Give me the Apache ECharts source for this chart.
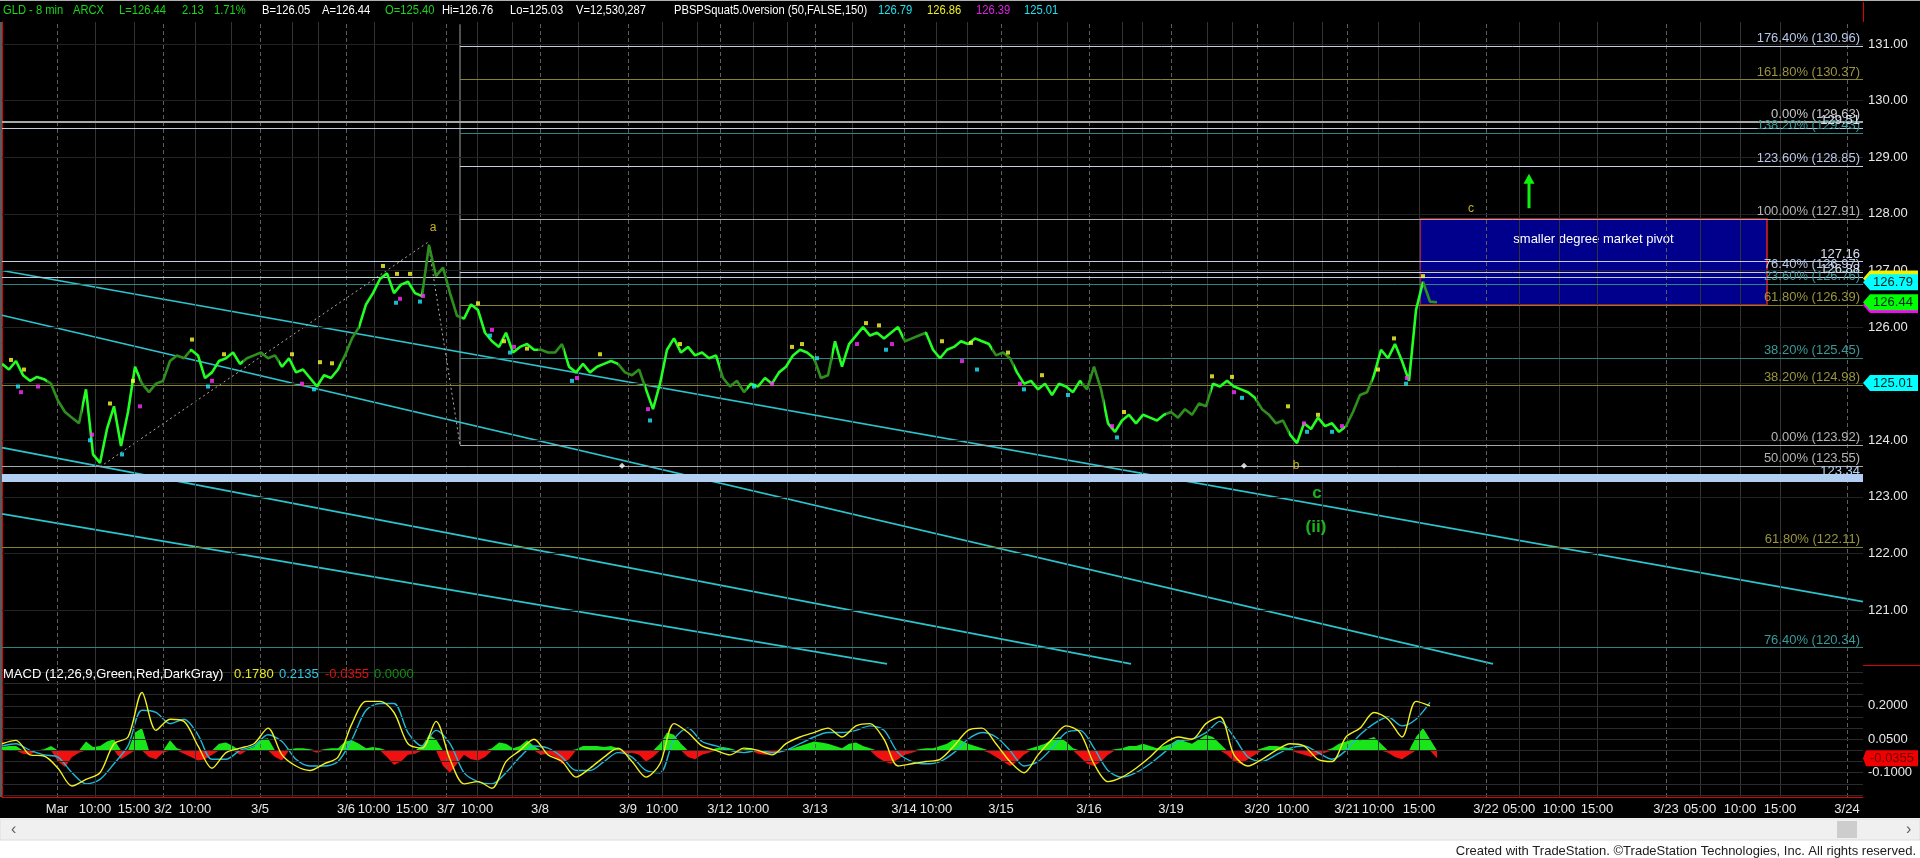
<!DOCTYPE html>
<html><head><meta charset="utf-8">
<script src="https://cdn.jsdelivr.net/npm/echarts@6/dist/echarts.min.js"></script>
<style>html,body{margin:0;padding:0;background:#fff;}#c{width:1920px;height:858px;}</style>
</head><body><div id="c"></div>
<script>
// ---------------- DATA ----------------
const PRICE_STEP = 7;   // bars between price samples (8-min bars)
const priceClose = [
125.35,125.25,125.40,125.15,125.05,125.12,125.08,125.00,124.70,124.50,
124.40,124.30,124.90,123.75,123.60,124.20,124.60,123.90,124.50,125.30,
125.00,124.85,125.00,125.05,125.40,125.50,125.45,125.60,125.50,125.10,
125.20,125.40,125.45,125.55,125.35,125.45,125.50,125.55,125.45,125.50,
125.30,125.45,125.20,125.25,125.10,124.95,125.15,125.10,125.25,125.50,
125.80,126.00,126.40,126.60,126.85,126.95,126.60,126.75,126.80,126.60,
126.55,127.45,126.90,127.05,126.60,126.20,126.15,126.40,126.30,125.90,
125.75,125.65,125.90,125.55,125.65,125.70,125.60,125.60,125.55,125.55,
125.70,125.30,125.20,125.35,125.20,125.30,125.35,125.40,125.35,125.20,
125.15,125.25,124.90,124.55,125.00,125.60,125.80,125.55,125.65,125.50,
125.55,125.45,125.50,125.10,124.95,125.05,124.85,125.00,124.95,125.10,
125.00,125.20,125.30,125.50,125.60,125.55,125.45,125.10,125.15,125.75,
125.30,125.70,125.85,126.00,125.85,125.90,125.80,125.90,126.00,125.75,
125.80,125.85,125.90,125.60,125.45,125.60,125.65,125.75,125.70,125.80,
125.75,125.70,125.50,125.55,125.45,125.20,125.00,125.05,124.90,125.00,
124.80,125.00,124.95,124.85,125.05,124.90,125.30,124.90,124.30,124.15,
124.35,124.45,124.30,124.45,124.40,124.35,124.45,124.50,124.40,124.55,
124.45,124.65,124.60,125.00,124.95,125.05,124.95,124.90,124.85,124.75,
124.55,124.45,124.30,124.35,124.10,123.95,124.30,124.20,124.40,124.25,
124.30,124.15,124.25,124.50,124.80,124.85,125.15,125.60,125.45,125.70,
125.40,125.05,126.30,126.80,126.45,126.44];
// extended-hours sessions (bar ranges) drawn in darker green
const extendedStart = [45,138,241,339,420,536,616,718,812,901,990,1080,1164,1254,1343,1421];
const extendedEnd   = [80,188,277,357,460,562,643,745,830,923,1012,1102,1209,1287,1370,1440];

// indicator dots
const yellowDots = [[9,125.42],[22,125.25],[108,124.65],[131,125.05],[190,125.78],[222,125.52],[290,125.52],[318,125.38],[330,125.36],[381,127.08],[395,126.94],[408,126.94],[476,126.42],[502,125.75],[525,125.62],[598,125.52],[678,125.7],[790,125.65],[800,125.7],[864,126.07],[877,126.03],[940,125.75],[969,125.72],[1006,125.55],[1040,125.15],[1122,124.5],[1210,125.13],[1230,125.12],[1286,124.6],[1316,124.45],[1376,125.25],[1392,125.8],[1421,126.9]];
const cyanDots = [[16,124.95],[88,124.0],[120,123.75],[206,124.95],[312,124.9],[394,126.43],[418,126.45],[488,125.85],[508,125.55],[570,125.05],[648,124.35],[752,124.95],[815,125.45],[884,125.6],[975,125.25],[1022,124.9],[1066,124.8],[1115,124.05],[1240,124.75],[1305,124.15],[1330,124.15],[1404,125.0]];
const magentaDots = [[19,124.85],[36,124.95],[90,124.1],[138,124.6],[210,125.05],[300,125.0],[398,126.5],[421,126.55],[490,125.95],[512,125.65],[575,125.1],[646,124.55],[770,125.0],[855,125.7],[890,125.7],[960,125.4],[1018,125.0],[1110,124.25],[1232,124.85],[1302,124.3],[1340,124.25],[1405,125.1]];

// MACD (12,26,9)
const MACD_STEP = 14;
const macdLine = [0.03,0.045,-0.02,-0.025,-0.08,-0.16,-0.13,-0.10,0.03,0.06,
0.26,0.09,0.14,0.13,0.02,-0.08,-0.01,0.01,0.03,0.10,
-0.02,-0.07,-0.09,-0.06,-0.03,0.12,0.22,0.22,0.17,0.03,
0.01,0.13,-0.04,-0.15,-0.14,-0.17,-0.05,0.00,0.05,-0.02,
-0.05,-0.12,-0.08,-0.03,0.01,-0.05,-0.12,-0.06,0.12,0.08,
0.02,0.00,-0.02,0.01,0.00,-0.02,0.03,0.06,0.08,0.10,
0.06,0.11,0.12,0.05,-0.07,-0.06,-0.05,-0.04,0.02,0.09,
0.10,0.03,-0.05,-0.10,-0.02,0.05,0.11,0.08,-0.06,-0.14,
-0.12,-0.08,-0.03,0.03,0.06,0.05,0.12,0.15,-0.02,-0.07,
-0.04,0.00,0.03,0.02,-0.04,-0.05,0.06,0.10,0.17,0.14,
0.06,0.22,0.20];
const signalLine = [0.02,0.03,0.00,-0.02,-0.03,-0.10,-0.15,-0.13,-0.06,0.02,
0.18,0.17,0.12,0.14,0.07,-0.04,-0.04,0.00,0.02,0.07,
0.04,-0.04,-0.07,-0.07,-0.05,0.05,0.18,0.21,0.21,0.08,
0.02,0.09,0.03,-0.10,-0.14,-0.15,-0.10,-0.03,0.02,0.01,
-0.03,-0.09,-0.09,-0.05,-0.01,-0.03,-0.09,-0.10,0.05,0.10,
0.04,0.02,0.00,-0.01,0.00,-0.01,0.00,0.03,0.06,0.08,
0.08,0.09,0.11,0.09,-0.01,-0.05,-0.06,-0.05,-0.01,0.05,
0.08,0.06,0.00,-0.07,-0.05,0.01,0.08,0.09,0.01,-0.09,
-0.12,-0.10,-0.06,-0.01,0.04,0.05,0.08,0.13,0.06,-0.03,
-0.05,-0.02,0.01,0.02,-0.01,-0.04,0.00,0.07,0.12,0.15,
0.11,0.14,0.215];
const HIST_STEP = 7;
const macdHist = [
0.015,0.02,0.02,-0.015,-0.02,0.0,0.005,0.02,-0.05,-0.075,
-0.03,-0.01,0.04,0.015,0.02,0.04,0.05,-0.04,-0.02,0.08,
0.10,-0.03,-0.04,-0.01,0.045,0.01,-0.015,-0.03,-0.045,-0.04,
-0.02,0.03,0.035,0.02,-0.02,0.005,0.015,0.05,0.055,-0.03,
-0.045,0.005,0.01,0.01,0.005,-0.01,0.005,0.01,0.01,0.04,
0.045,0.03,0.01,0.015,0.01,-0.03,-0.065,-0.05,-0.02,-0.015,
0.02,0.07,0.05,-0.07,-0.10,-0.06,-0.02,-0.04,-0.045,-0.03,
0.01,0.035,0.03,0.01,0.02,0.045,0.02,-0.02,-0.015,-0.03,
-0.06,-0.04,0.005,0.02,0.02,0.02,0.015,0.02,0.01,-0.015,
-0.01,-0.02,-0.05,-0.03,0.03,0.08,0.07,0.03,-0.03,-0.04,
-0.02,-0.01,0.01,0.015,0.01,-0.01,0.005,0.01,-0.015,-0.02,
-0.015,-0.01,0.005,0.01,0.02,0.03,0.04,0.035,0.03,0.02,
0.01,0.03,0.035,0.02,0.01,-0.03,-0.05,-0.06,-0.04,-0.02,
-0.01,0.005,0.01,0.01,0.02,0.03,0.05,0.045,0.03,0.02,
0.01,-0.01,-0.03,-0.05,-0.07,-0.05,-0.02,0.01,0.02,0.03,
0.05,0.06,0.04,0.01,-0.03,-0.06,-0.07,-0.05,-0.02,0.005,
0.01,0.02,0.02,0.03,0.02,0.01,0.02,0.03,0.05,0.04,
0.03,0.05,0.07,0.06,0.03,-0.02,-0.05,-0.06,-0.04,-0.02,
0.01,0.02,0.02,0.015,0.01,-0.01,-0.02,-0.03,-0.02,-0.01,
0.01,0.03,0.04,0.05,0.045,0.05,0.06,0.03,-0.01,-0.03,
-0.04,-0.02,0.06,0.10,0.05,-0.0355];

// time axis (bar index of each tick)
const dateTickBars   = [55,161,258,344,444,538,626,718,813,902,999,1087,1169,1255,1345,1484,1664,1845];
const dateTickLabels = ['Mar','3/2','3/5','3/6','3/7','3/8','3/9','3/12','3/13','3/14','3/15','3/16','3/19','3/20','3/21','3/22','3/23','3/24'];
const hourTickBars   = [93,132,193,372,410,475,660,751,934,1291,1376,1417,1517,1557,1595,1698,1738,1778];
const hourTickLabels = ['10:00','15:00','10:00','10:00','15:00','10:00','10:00','10:00','10:00','10:00','10:00','15:00','05:00','10:00','15:00','05:00','10:00','15:00'];
const hourGridBars   = [229,290,316,510,576,695,785,850,965,1035,1065,1120,1140,1205,1230,1320];

const priceTicks = [121,122,123,124,125,126,127,128,129,130,131];
const macdTicks = [0.2,0.05,-0.1];
const macdGridLevels = [0.35,0.3,0.25,0.2,0.15,0.1,0.05,0,-0.05,-0.1,-0.15,-0.2];

// Fibonacci set A (full width) and set B (anchored at bar 458)
const fibAPct   = ['0.00%','23.60%','38.20%','50.00%','61.80%','76.40%'];
const fibAPrice = [129.63,126.76,124.98,123.55,122.11,120.34];
const fibBPct   = ['0.00%','38.20%','61.80%','76.40%','100.00%','123.60%','138.20%','161.80%','176.40%'];
const fibBPrice = [123.92,125.45,126.39,126.97,127.91,128.85,129.43,130.37,130.96];
const fibBStartBar = 458;
const fibBTopPrice = 131.35;
const priceLines = [127.16,126.88,129.51];
const supportBand = 123.34;

// trend channel lines: [startBar, startPrice, endBar, endPrice]
const trendLines = [[0,127.0,1861,121.15],[0,126.21,1491,120.05],[0,123.87,1129,120.05],[0,122.70,885,120.05]];
// wave swing path (dotted)
const swingBars = [98,426,458];
const swingPrices = [123.53,127.50,123.92];

// pivot zone
const pivotBars = [1418,1765];
const pivotPrices = [127.91,126.39];
const pivotText = 'smaller degree market pivot';

// wave labels
const waveText = ['a','c','b'];
const waveBars = [431,1469,1294];
const wavePrices = [127.75,128.09,123.55];
const bigWaveText = ['c','(ii)'];
const bigWaveBars = [1315,1314];
const bigWavePrices = [123.07,122.47];
const markerBars = [620,1242];
const markerPrices = [123.55,123.55];
const arrowBar = 1527;
const arrowPrices = [128.10,128.62];

// last values on the price axis
const lastValues = [126.86,126.79,126.39,126.44,125.01];
const lastValueText = ['','126.79','','126.44','125.01'];
const macdLast = -0.0355;

// header texts
const headerTokens = ['GLD - 8 min','ARCX','L=126.44','2.13','1.71%','B=126.05','A=126.44','O=125.40','Hi=126.76','Lo=125.03','V=12,530,287','PBSPSquat5.0version (50,FALSE,150)','126.79','126.86','126.39','125.01'];
const macdHeaderTokens = ['MACD (12,26,9,Green,Red,DarkGray)','0.1780','0.2135','-0.0355','0.0000'];

// ---------------- CHART ----------------
const FONT = '"Liberation Sans", Arial, sans-serif';
const XMAX = 1861;
const chart = echarts.init(document.getElementById('c'), null, {renderer:'canvas', width:1920, height:858});

const xTickText = {};
dateTickBars.forEach((b,i)=>xTickText[b]=dateTickLabels[i]);
hourTickBars.forEach((b,i)=>xTickText[b]=hourTickLabels[i]);
const allLabelBars = dateTickBars.concat(hourTickBars).sort((a,b)=>a-b);
const allTickBars = allLabelBars.concat(hourGridBars).sort((a,b)=>a-b);

const S = []; // series

function vGridLines(){
  return dateTickBars.map(b=>({xAxis:b, lineStyle:{color:'#5e5e5e', type:[4,3], width:1}}))
    .concat(hourTickBars.concat(hourGridBars).map(b=>({xAxis:b, lineStyle:{color:'#333', type:'solid', width:1}})));
}
S.push({type:'line', xAxisIndex:0, yAxisIndex:0, data:[], silent:true, z:1,
  markLine:{silent:true, symbol:['none','none'], animation:false, label:{show:false},
    data: vGridLines().concat(priceTicks.map(v=>({yAxis:v, lineStyle:{color:'#222', type:'solid', width:1}})))}});
S.push({type:'line', xAxisIndex:1, yAxisIndex:1, data:[], silent:true, z:1,
  markLine:{silent:true, symbol:['none','none'], animation:false, label:{show:false},
    data: vGridLines().concat(macdGridLevels.map(v=>({yAxis:v, lineStyle:{color:'#2a2a2a', type:'solid', width:1}})))}});

// pivot box
S.push({type:'line', xAxisIndex:0, yAxisIndex:0, data:[], silent:true, z:2,
  markArea:{silent:true, animation:false,
    itemStyle:{color:'#00008c', borderColor:'#e02020', borderWidth:1.5},
    label:{show:true, position:'insideTop', distance:15, color:'#ffffff', fontFamily:FONT, fontSize:13, formatter:pivotText},
    data:[[{coord:[pivotBars[0],pivotPrices[0]]},{coord:[pivotBars[1],pivotPrices[1]]}]]}});

function lvl(from, price, color, width, text, tcolor){
  return [{coord:[from,price], lineStyle:{color:color, width:width, type:'solid'},
    label:{show:!!text, formatter:text||'', color:tcolor||color, position:'insideEndTop', fontFamily:FONT, fontSize:13, distance:[3,1]}},
    {coord:[XMAX,price]}];
}
const LIGHT='#c4cce0', LIGHT_T='#b8c8e8', GRAY='#a8a8a8', GRAY_T='#b4b4b4', OLIVE='#84842a', OLIVE_T='#9a9440', TEAL='#2c8484', TEAL_T='#3a9a9a';
const fibAColors = [[GRAY,'#c8c8c8',2],[TEAL,TEAL_T,1],[OLIVE,OLIVE_T,1],[GRAY,GRAY_T,1],[OLIVE,OLIVE_T,1],[TEAL,TEAL_T,1]];
const fibBColors = [[GRAY,GRAY_T,1],[TEAL,TEAL_T,1],[OLIVE,OLIVE_T,1],[LIGHT,LIGHT_T,1],[GRAY,GRAY_T,1],[LIGHT,LIGHT_T,1],[TEAL,TEAL_T,1],[OLIVE,OLIVE_T,1],[LIGHT,LIGHT_T,1]];
const levelData = [];
fibAPrice.forEach((p,i)=>levelData.push(lvl(0,p,fibAColors[i][0],fibAColors[i][2],fibAPct[i]+' ('+p.toFixed(2)+')',fibAColors[i][1])));
fibBPrice.forEach((p,i)=>levelData.push(lvl(fibBStartBar,p,fibBColors[i][0],fibBColors[i][2],fibBPct[i]+' ('+p.toFixed(2)+')',fibBColors[i][1])));
priceLines.forEach(p=>levelData.push(lvl(0,p,LIGHT,1.2,p.toFixed(2),'#d8e0f0')));
S.push({type:'line', xAxisIndex:0, yAxisIndex:0, data:[], silent:true, z:3,
  markLine:{silent:true, symbol:['none','none'], animation:false, data:levelData}});
S.push({type:'line', xAxisIndex:0, yAxisIndex:0, data:[], silent:true, z:3,
  markLine:{silent:true, symbol:['none','none'], animation:false,
    data:[[{coord:[0,supportBand], lineStyle:{color:'#b2cef0', width:8, type:'solid'},
      label:{show:true, formatter:supportBand.toFixed(2), color:'#b8d4f4', position:'insideEndTop', fontFamily:FONT, fontSize:13, distance:[3,0]}},
      {coord:[XMAX,supportBand]}]]}});
S.push({type:'line', xAxisIndex:0, yAxisIndex:0, z:3, silent:true, symbol:'none',
  lineStyle:{color:'#a0a0a0', width:1}, data:[[fibBStartBar,fibBPrice[0]],[fibBStartBar,fibBTopPrice]]});
trendLines.forEach(t=>S.push({type:'line', xAxisIndex:0, yAxisIndex:0, z:4, silent:true, symbol:'none', clip:true,
  lineStyle:{color:'#2cc4cc', width:1.6}, data:[[t[0],t[1]],[t[2],t[3]]]}));
S.push({type:'line', xAxisIndex:0, yAxisIndex:0, z:4, silent:true, symbol:'none',
  lineStyle:{color:'#b0b0b0', width:1, type:[2,3]}, data:swingBars.map((b,i)=>[b,swingPrices[i]])});

const priceSeriesIndex = S.length;
S.push({type:'line', xAxisIndex:0, yAxisIndex:0, z:6, silent:true, symbol:'none', lineStyle:{width:2.6},
  data: priceClose.map((v,i)=>[i*PRICE_STEP, v])});
[[yellowDots,'#ffff30'],[cyanDots,'#20e8ff'],[magentaDots,'#ff30ff']].forEach(d=>S.push({type:'scatter', xAxisIndex:0, yAxisIndex:0, z:7, silent:true,
  symbol:'rect', symbolSize:4, itemStyle:{color:d[1]}, data:d[0]}));
S.push({type:'scatter', xAxisIndex:0, yAxisIndex:0, z:7, silent:true, symbol:'diamond', symbolSize:6, itemStyle:{color:'#ffffff'},
  data: markerBars.map((b,i)=>[b,markerPrices[i]])});
S.push({type:'scatter', xAxisIndex:0, yAxisIndex:0, z:8, silent:true, symbolSize:1, itemStyle:{color:'rgba(0,0,0,0)'},
  label:{show:true, position:'inside', color:'#f0e020', fontFamily:FONT, fontSize:12, formatter:p=>p.data[2]},
  data: waveBars.map((b,i)=>[b,wavePrices[i],waveText[i]])});
S.push({type:'scatter', xAxisIndex:0, yAxisIndex:0, z:8, silent:true, symbolSize:1, itemStyle:{color:'rgba(0,0,0,0)'},
  label:{show:true, position:'inside', color:'#20e020', fontFamily:FONT, fontSize:17, fontWeight:'bold', formatter:p=>p.data[2]},
  data: bigWaveBars.map((b,i)=>[b,bigWavePrices[i],bigWaveText[i]])});
S.push({type:'line', xAxisIndex:0, yAxisIndex:0, z:8, silent:true, showSymbol:true, lineStyle:{color:'#10f010', width:3},
  itemStyle:{color:'#10f010'},
  data:[{value:[arrowBar,arrowPrices[0]], symbol:'none'},{value:[arrowBar,arrowPrices[1]], symbol:'triangle', symbolSize:[11,10]}]});

S.push({type:'line', xAxisIndex:1, yAxisIndex:1, z:3, silent:true, symbol:'none', lineStyle:{width:0},
  areaStyle:{color:'#19e619', opacity:1}, data: macdHist.map((v,i)=>[i*HIST_STEP, Math.max(v,0)])});
S.push({type:'line', xAxisIndex:1, yAxisIndex:1, z:3, silent:true, symbol:'none', lineStyle:{width:0},
  areaStyle:{color:'#f01010', opacity:1}, data: macdHist.map((v,i)=>[i*HIST_STEP, Math.min(v,0)])});
S.push({type:'line', xAxisIndex:1, yAxisIndex:1, z:4, silent:true, symbol:'none', smooth:0.3, lineStyle:{width:1.4, color:'#20b8d8'},
  data: signalLine.map((v,i)=>[i*MACD_STEP, v])});
S.push({type:'line', xAxisIndex:1, yAxisIndex:1, z:5, silent:true, symbol:'none', smooth:0.3, lineStyle:{width:1.4, color:'#f0f020'},
  data: macdLine.map((v,i)=>[i*MACD_STEP, v])});

const pieces = extendedStart.map((s,i)=>({gte:s, lt:extendedEnd[i], color:'#2e8f1e'}));

chart.setOption({
  animation:false,
  backgroundColor:'#000000',
  grid:[{left:2, right:57, top:22, height:643},{left:2, right:57, top:665, height:132}],
  xAxis:[
    {type:'value', gridIndex:0, min:0, max:XMAX, show:true, axisLine:{show:false}, axisTick:{show:false}, axisLabel:{show:false}, splitLine:{show:false}},
    {type:'value', gridIndex:1, min:0, max:XMAX, position:'bottom',
      axisLine:{show:true, onZero:false, lineStyle:{color:'#e00000', width:1}},
      axisTick:{show:true, inside:true, length:4, customValues:allTickBars, lineStyle:{color:'#e00000'}},
      axisLabel:{customValues:allLabelBars, formatter:v=>xTickText[v]||'', color:'#e8e8e8', fontFamily:FONT, fontSize:13, margin:6, hideOverlap:false},
      splitLine:{show:false}}
  ],
  yAxis:[
    {type:'value', gridIndex:0, position:'right', min:120.03, max:131.39,
      axisLine:{show:true, lineStyle:{color:'#e00000', width:1}},
      axisTick:{show:true, customValues:priceTicks, length:4, lineStyle:{color:'#c8c8c8'}},
      axisLabel:{customValues:priceTicks, formatter:v=>v.toFixed(2), color:'#e8e8e8', fontFamily:FONT, fontSize:13, margin:5},
      splitLine:{show:false}},
    {type:'value', gridIndex:1, position:'right', min:-0.209, max:0.383,
      axisLine:{show:true, lineStyle:{color:'#e00000', width:1}},
      axisTick:{show:true, customValues:macdTicks, length:4, lineStyle:{color:'#c8c8c8'}},
      axisLabel:{customValues:macdTicks, formatter:v=>v.toFixed(4), color:'#e8e8e8', fontFamily:FONT, fontSize:13, margin:5},
      splitLine:{show:false}}
  ],
  visualMap:[{type:'piecewise', show:false, dimension:0, seriesIndex:priceSeriesIndex, pieces:pieces, outOfRange:{color:'#22ff22'}}],
  series:S
});

// ---------- overlay graphics ----------
const G = [];
function txt(x,y,t,fill,font,align,sx){ G.push({type:'text', x:x, y:y, z:100, silent:true, scaleX:sx||1, scaleY:1,
  style:{text:t, fill:fill, font:font, textAlign:align||'left', textVerticalAlign:'middle'}}); }
const F13 = '13px '+FONT;
G.push({type:'rect', z:90, silent:true, shape:{x:0,y:0,width:1920,height:1}, style:{fill:'#b0b0b0'}});
const hdrX = [3,73,119,182,214,262,322,385,442,510,576,674,878,927,976,1024];
const hdrC = ['#18d818','#18d818','#18d818','#18d818','#18d818','#ffffff','#ffffff','#18d818','#ffffff','#ffffff','#ffffff','#ffffff','#20e0f0','#f0f020','#e020e0','#20e0f0'];
headerTokens.forEach((t,i)=>txt(hdrX[i],10,t,hdrC[i],F13,'left',0.86));
const mhX = [3,234,279,325,374];
const mhC = ['#ffffff','#e8e820','#30c8e0','#e01010','#109010'];
macdHeaderTokens.forEach((t,i)=>txt(mhX[i],674,t,mhC[i],F13));
G.push({type:'rect', z:90, silent:true, shape:{x:0,y:22,width:2,height:775}, style:{fill:'#5a5a5a'}});
G.push({type:'rect', z:90, silent:true, shape:{x:1863,y:665,width:57,height:1}, style:{fill:'#e00000'}});
G.push({type:'rect', z:90, silent:true, shape:{x:1863,y:2,width:1,height:20}, style:{fill:'#e00000'}});
G.push({type:'rect', z:90, silent:true, shape:{x:0,y:818,width:1920,height:40}, style:{fill:'#ffffff'}});
G.push({type:'rect', z:91, silent:true, shape:{x:0,y:819,width:1920,height:21}, style:{fill:'#f0f0f0', stroke:'#dcdcdc', lineWidth:1}});
G.push({type:'rect', z:92, silent:true, shape:{x:1837,y:821,width:20,height:17}, style:{fill:'#cdcdcd'}});
txt(11,830,'‹','#606060','16px '+FONT);
txt(1906,830,'›','#606060','16px '+FONT);
txt(1916,851,'Created with TradeStation. ©TradeStation Technologies, Inc. All rights reserved.','#202020',F13,'right');

const tagColors = ['#f0f000','#00ffff','#ff00ff','#00ff00','#00ffff'];
lastValues.forEach((v,i)=>{
  const y = chart.convertToPixel({yAxisIndex:0}, v);
  G.push({type:'polygon', z:95, silent:true, shape:{points:[[1863,y],[1870,y-8],[1918,y-8],[1918,y+8],[1870,y+8]]}, style:{fill:tagColors[i]}});
  if(lastValueText[i]) txt(1893,y,lastValueText[i],'#002020',F13,'center');
});
{
  const y = chart.convertToPixel({yAxisIndex:1}, macdLast);
  G.push({type:'polygon', z:95, silent:true, shape:{points:[[1863,y],[1866,y-8],[1918,y-8],[1918,y+8],[1866,y+8]]}, style:{fill:'#f00000'}});
  txt(1892,y,macdLast.toFixed(4),'#6a0000',F13,'center');
}
chart.setOption({graphic:G});
</script></body></html>
